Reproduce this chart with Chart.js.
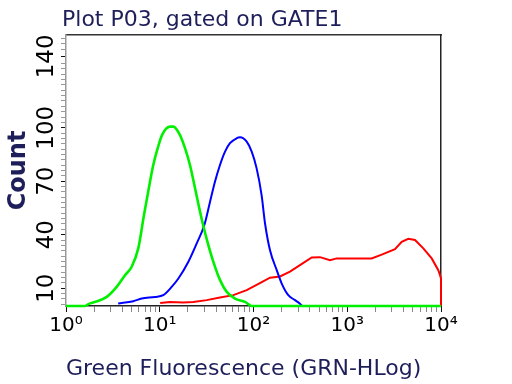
<!DOCTYPE html>
<html><head><meta charset="utf-8">
<script src="https://cdn.jsdelivr.net/npm/chart.js@4/dist/chart.umd.min.js"></script>
<style>html,body{margin:0;padding:0;background:#fff;overflow:hidden}canvas{display:block}</style>
</head><body>
<canvas id="c" width="512" height="384"></canvas>
<script>
const titleText = 'Plot P03, gated on GATE1';
const xTitle = 'Green Fluorescence (GRN-HLog)';
const yTitle = 'Count';
const xMajorTicks = [1, 10, 100, 1000, 10000];
const xTickLabels = ['10\u2070', '10\u00B9', '10\u00B2', '10\u00B3', '10\u2074'];
const yLabelledTicks = [10, 40, 70, 100, 140];
const yTickValues = [1,4,7,10,13,16,19,22,25,28,31,34,37,40,43,46,49,52,55,58,61,64,67,70,73,76,79,82,85,88,91,94,97,100,103,106,109,112,115,118,121,124,127,130,133,136,140,144,147,150];

const greenX = [1, 1.6, 1.75, 2.04, 2.72, 3.47, 4.26, 5.02, 5.9, 6.79, 7.87, 8.53, 9.51, 10.6, 12.9, 13.95, 16.4, 18.6, 21.0, 23.8, 26.9, 29.9, 33.0, 37.3, 44, 51.8, 63.5, 81.2, 96, 10000];
const greenCount = [0, 0, 1.2, 2.3, 5.1, 10.7, 17.3, 22, 32.3, 51, 69.7, 79.1, 88.5, 96, 100.6, 100.6, 96, 88.5, 79.1, 66, 52.9, 42.6, 34.2, 24.8, 14.5, 7.9, 4.2, 2.3, 0, 0];

const blueX = [3.6, 5.22, 6.42, 8.9, 10.9, 13.4, 15.8, 20.2, 24.8, 29.9, 34.4, 38.8, 43.9, 49.7, 56.1, 66.2, 71.8, 84.6, 95.7, 108, 122, 133, 150, 177, 200, 235, 277, 313, 330];
const blueCount = [1.4, 2.7, 4.2, 5.1, 6.1, 10.7, 15.4, 24.8, 35.1, 45.4, 58.5, 69.7, 79.1, 86.6, 91.3, 94.1, 94.6, 92.2, 86.6, 77.2, 62.2, 46, 31.3, 20.1, 12.6, 6.1, 3.3, 1.3, 0];

const redX = [10.1, 12.9, 17.8, 22.8, 31.7, 43.9, 60.9, 84.6, 117, 150, 192, 245, 313, 418, 512, 655, 771, 1070, 1820, 2330, 3230, 3810, 4480, 5280, 6480, 7960, 9360, 9760, 10000, 10000];
const redCount = [1.7, 2.3, 2.0, 2.3, 3.3, 4.8, 6.1, 8.9, 12.8, 15.9, 16.6, 19.3, 22.9, 27.2, 27.4, 25.7, 26.7, 26.7, 26.7, 28.8, 31.9, 36, 37.7, 37, 32.3, 26.7, 20.1, 17.3, 15.5, 0];

const xTickValues = [];
for (let e = 0; e < 4; e++) for (let m = 1; m <= 9; m++) xTickValues.push(m * Math.pow(10, e));
xTickValues.push(10000);

const toPts = (xs, ys) => xs.map((x, i) => ({x: x, y: ys[i]}));

const titlePlugin = {
  id: 'plotTitle',
  afterDraw(chart) {
    const ctx = chart.ctx;
    ctx.save();
    ctx.font = '22px "DejaVu Sans"';
    ctx.fillStyle = '#1e1e5a';
    ctx.textBaseline = 'alphabetic';
    ctx.textAlign = 'left';
    ctx.fillText(titleText, 62, 26);
    ctx.restore();
  }
};

const lineDs = (label, xs, ys, color, w, smooth) => ({
  label: label, data: toPts(xs, ys), borderColor: color, backgroundColor: color,
  borderWidth: w, pointRadius: 0, fill: false, clip: false,
  tension: smooth ? 0.4 : 0, cubicInterpolationMode: smooth ? 'monotone' : 'default'
});

new Chart(document.getElementById('c'), {
  type: 'line',
  data: {
    datasets: [
      lineDs('green', greenX, greenCount, '#00f000', 2.6, true),
      lineDs('blue', blueX, blueCount, '#0000ff', 2, true),
      lineDs('red', redX, redCount, '#ff0000', 2, false)
    ]
  },
  plugins: [titlePlugin],
  options: {
    responsive: false, animation: false, devicePixelRatio: 1,
    layout: {padding: 0},
    plugins: {legend: {display: false}, tooltip: {enabled: false}, title: {display: false}},
    scales: {
      x: {
        type: 'logarithmic', position: 'bottom', min: 1, max: 10000,
        afterBuildTicks: s => { s.ticks = xTickValues.map(v => ({value: v, major: xMajorTicks.includes(v)})); },
        afterFit: s => { s.height = 78; },
        grid: {display: true, drawOnChartArea: false, drawTicks: true, tickLength: 6, tickWidth: 1,
          tickColor: c => (c.tick && xMajorTicks.includes(c.tick.value)) ? '#111' : '#888'},
        border: {display: true, color: '#222', width: 1.5},
        ticks: {
          autoSkip: false, maxRotation: 0, minRotation: 0, padding: 2, color: '#000',
          font: {family: 'DejaVu Sans', size: 20},
          callback: (v) => { const i = xMajorTicks.indexOf(Number(v)); return i >= 0 ? xTickLabels[i] : ''; }
        },
        title: {display: true, text: xTitle, align: 'start', color: '#1e1e5a',
          font: {family: 'DejaVu Sans', size: 22}, padding: {top: 0, bottom: 2}}
      },
      x2: {
        type: 'logarithmic', position: 'top', min: 1, max: 10000,
        afterFit: s => { s.height = 35; },
        grid: {display: false, drawTicks: false},
        border: {display: true, color: '#333', width: 1.5},
        ticks: {display: false}
      },
      y: {
        type: 'linear', position: 'left', min: 0, max: 152,
        afterBuildTicks: s => { s.ticks = yTickValues.map(v => ({value: v})); },
        afterFit: s => { s.width = 66; },
        grid: {display: true, drawOnChartArea: false, drawTicks: true, tickLength: 5,
          tickColor: c => (c.tick && yLabelledTicks.includes(c.tick.value)) ? '#111' : '#999'},
        border: {display: true, color: '#999', width: 1.5},
        ticks: {
          autoSkip: false, minRotation: 90, maxRotation: 90, crossAlign: 'center', padding: -8, color: '#000',
          font: {family: 'DejaVu Sans', size: 23},
          callback: (v) => yLabelledTicks.includes(Number(v)) ? String(v) : ''
        },
        title: {display: true, text: yTitle, color: '#1e1e5a',
          font: {family: 'DejaVu Sans', size: 24, weight: 'bold'}, padding: {top: 4, bottom: 0}}
      },
      y2: {
        type: 'linear', position: 'right', min: 0, max: 152,
        afterFit: s => { s.width = 71; },
        grid: {display: false, drawTicks: false},
        border: {display: true, color: '#222', width: 1.5},
        ticks: {display: false}
      }
    }
  }
});
</script>
</body></html>
